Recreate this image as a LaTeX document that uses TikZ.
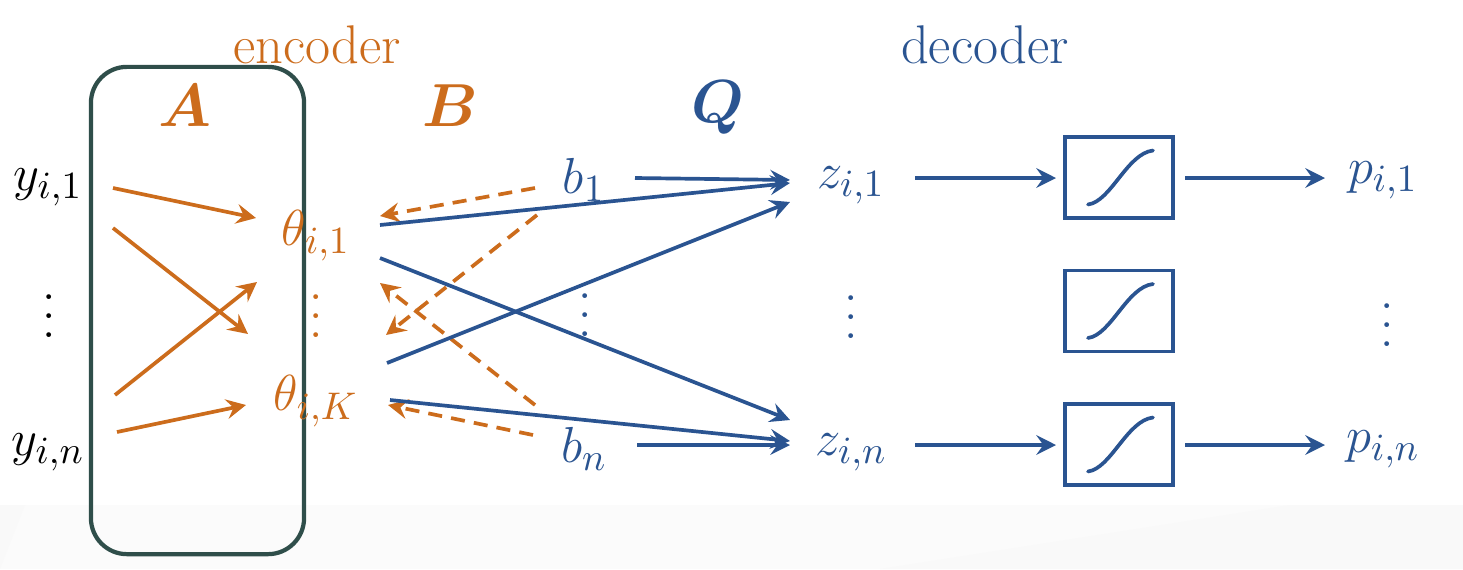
\documentclass[tikz,border=0pt]{standalone}
\usepackage{amsmath,bm}
\usetikzlibrary{arrows.meta}
\definecolor{enc}{RGB}{204,108,28}
\definecolor{dec}{RGB}{42,84,145}
\definecolor{frm}{RGB}{47,78,74}
\newcommand{\vdts}{\vbox{\baselineskip=0.19cm\lineskiplimit=-10pt\hbox{.}\hbox{.}\hbox{.}}}
\begin{document}
\begin{tikzpicture}[x=0.01cm,y=-0.01cm,
  font=\fontsize{15}{18}\selectfont,
  tip/.style={-{Stealth[length=5.6pt,width=5.6pt,inset=2pt]}},
  encarr/.style={tip,draw=enc,line width=1.05pt},
  encdash/.style={tip,draw=enc,line width=1.05pt,dash pattern=on 4pt off 2.6pt},
  decarr/.style={tip,draw=dec,line width=1.05pt},
  enctxt/.style={text=enc,inner sep=0pt},
  dectxt/.style={text=dec,inner sep=0pt},
  vd/.style={inner sep=0pt,font=\fontsize{14}{16}\selectfont},
  sigbox/.style={draw=dec,line width=1.05pt,minimum width=1.08cm,minimum height=0.81cm,inner sep=0pt}]
\fill[white] (0,0) rectangle (1463,569);
\useasboundingbox (0,0) rectangle (1463,569);
% faint slide background
\fill[gray!3] (0,505) -- (1463,505) -- (1463,569) -- (0,569) -- cycle;
\fill[gray!5] (880,569) -- (1290,505) -- (1463,505) -- (1463,569) -- cycle;
\fill[gray!5] (0,505) -- (25,505) -- (0,569) -- cycle;

% frame of A
\node[draw=frm,line width=1.2pt,rounded corners=0.36cm,minimum width=2.13cm,minimum height=4.87cm] (boxA) at (197.5,310.5) {};

% headers
\node[enctxt,font=\fontsize{15.5}{18}\selectfont] (enc) at (317,45) {encoder};
\node[dectxt,font=\fontsize{15.5}{18}\selectfont] (dec) at (985,45) {decoder};
\node[enctxt,font=\fontsize{16}{18}\selectfont] (A) at (185,106) {$\bm{A}$};
\node[enctxt,font=\fontsize{16}{18}\selectfont] (B) at (450,106) {$\bm{B}$};
\node[dectxt,font=\fontsize{16}{18}\selectfont] (Q) at (718,108) {$\bm{Q}$};

% inputs
\node[inner sep=0pt] (y1) at (48,187) {$y_{i,1}$};
\node[vd] (yd) at (49,316) {\vdts};
\node[inner sep=0pt] (yn) at (48,452) {$y_{i,n}$};

% latent
\node[enctxt] (t1) at (316,236) {$\theta_{i,1}$};
\node[enctxt,vd] (td) at (316,316) {\vdts};
\node[enctxt] (tK) at (316,401) {$\theta_{i,K}$};

% b
\node[dectxt] (b1) at (584,180) {$b_1$};
\node[dectxt,vd] (bd) at (585,315) {\vdts};
\node[dectxt] (bn) at (584,449) {$b_n$};

% z
\node[dectxt] (z1) at (851,185) {$z_{i,1}$};
\node[dectxt,vd] (zd) at (851,317) {\vdts};
\node[dectxt] (zn) at (851,452) {$z_{i,n}$};

% sigmoid boxes
\node[sigbox] (s1) at (1119,177.5) {};
\node[sigbox] (s2) at (1119,311) {};
\node[sigbox] (s3) at (1119,444.5) {};
\foreach \s in {s1,s2,s3}
  \draw[dec,line width=1.05pt,line cap=round]
    ([shift={(-31,27)}]\s.center) .. controls ([shift={(-8,24)}]\s.center) and ([shift={(8,-24)}]\s.center) .. ([shift={(34,-27)}]\s.center);

% outputs
\node[dectxt] (p1) at (1383,180) {$p_{i,1}$};
\node[dectxt,vd] (pd) at (1387,325) {\vdts};
\node[dectxt] (pn) at (1383,449) {$p_{i,n}$};

% coordinates for connector ends
\coordinate (ya1) at (113,188);  \coordinate (ta1) at (256,218);
\coordinate (ya2) at (113,228);  \coordinate (ta2) at (248,334);
\coordinate (ya3) at (115,395);  \coordinate (ta3) at (257,282);
\coordinate (ya4) at (117,432);  \coordinate (ta4) at (246,405);

\coordinate (tq1) at (380,225);  \coordinate (zq1) at (790,183);
\coordinate (tq2) at (380,258);  \coordinate (zq2) at (790,420);
\coordinate (tq3) at (387,363);  \coordinate (zq3) at (790,202);
\coordinate (tq4) at (390,400);  \coordinate (zq4) at (790,441);

\coordinate (bb1) at (535,188);  \coordinate (tb1) at (380,216);
\coordinate (bb2) at (537,215);  \coordinate (tb2) at (386,335);
\coordinate (bb3) at (535,405);  \coordinate (tb3) at (380,283);
\coordinate (bb4) at (533,435);  \coordinate (tb4) at (388,405);

\coordinate (bz1) at (635,178);  \coordinate (zb1) at (790,180);
\coordinate (bz2) at (637,445);  \coordinate (zb2) at (790,445);

\coordinate (zs1) at (915,178);  \coordinate (sz1) at (1056,178);
\coordinate (zs2) at (915,445);  \coordinate (sz2) at (1056,445);
\coordinate (sp1) at (1185,178); \coordinate (ps1) at (1325,178);
\coordinate (sp2) at (1185,445); \coordinate (ps2) at (1325,445);

% A arrows
\draw[encarr] (ya1) -- (ta1);
\draw[encarr] (ya2) -- (ta2);
\draw[encarr] (ya3) -- (ta3);
\draw[encarr] (ya4) -- (ta4);

% B dashed arrows
\draw[encdash] (bb1) -- (tb1);
\draw[encdash] (bb2) -- (tb2);
\draw[encdash] (bb3) -- (tb3);
\draw[encdash] (bb4) -- (tb4);

% Q arrows
\draw[decarr] (tq1) -- (zq1);
\draw[decarr] (tq2) -- (zq2);
\draw[decarr] (tq3) -- (zq3);
\draw[decarr] (tq4) -- (zq4);

% b arrows
\draw[decarr] (bz1) -- (zb1);
\draw[decarr] (bz2) -- (zb2);

% decoder chain
\draw[decarr] (zs1) -- (sz1);
\draw[decarr] (zs2) -- (sz2);
\draw[decarr] (sp1) -- (ps1);
\draw[decarr] (sp2) -- (ps2);
\end{tikzpicture}
\end{document}
